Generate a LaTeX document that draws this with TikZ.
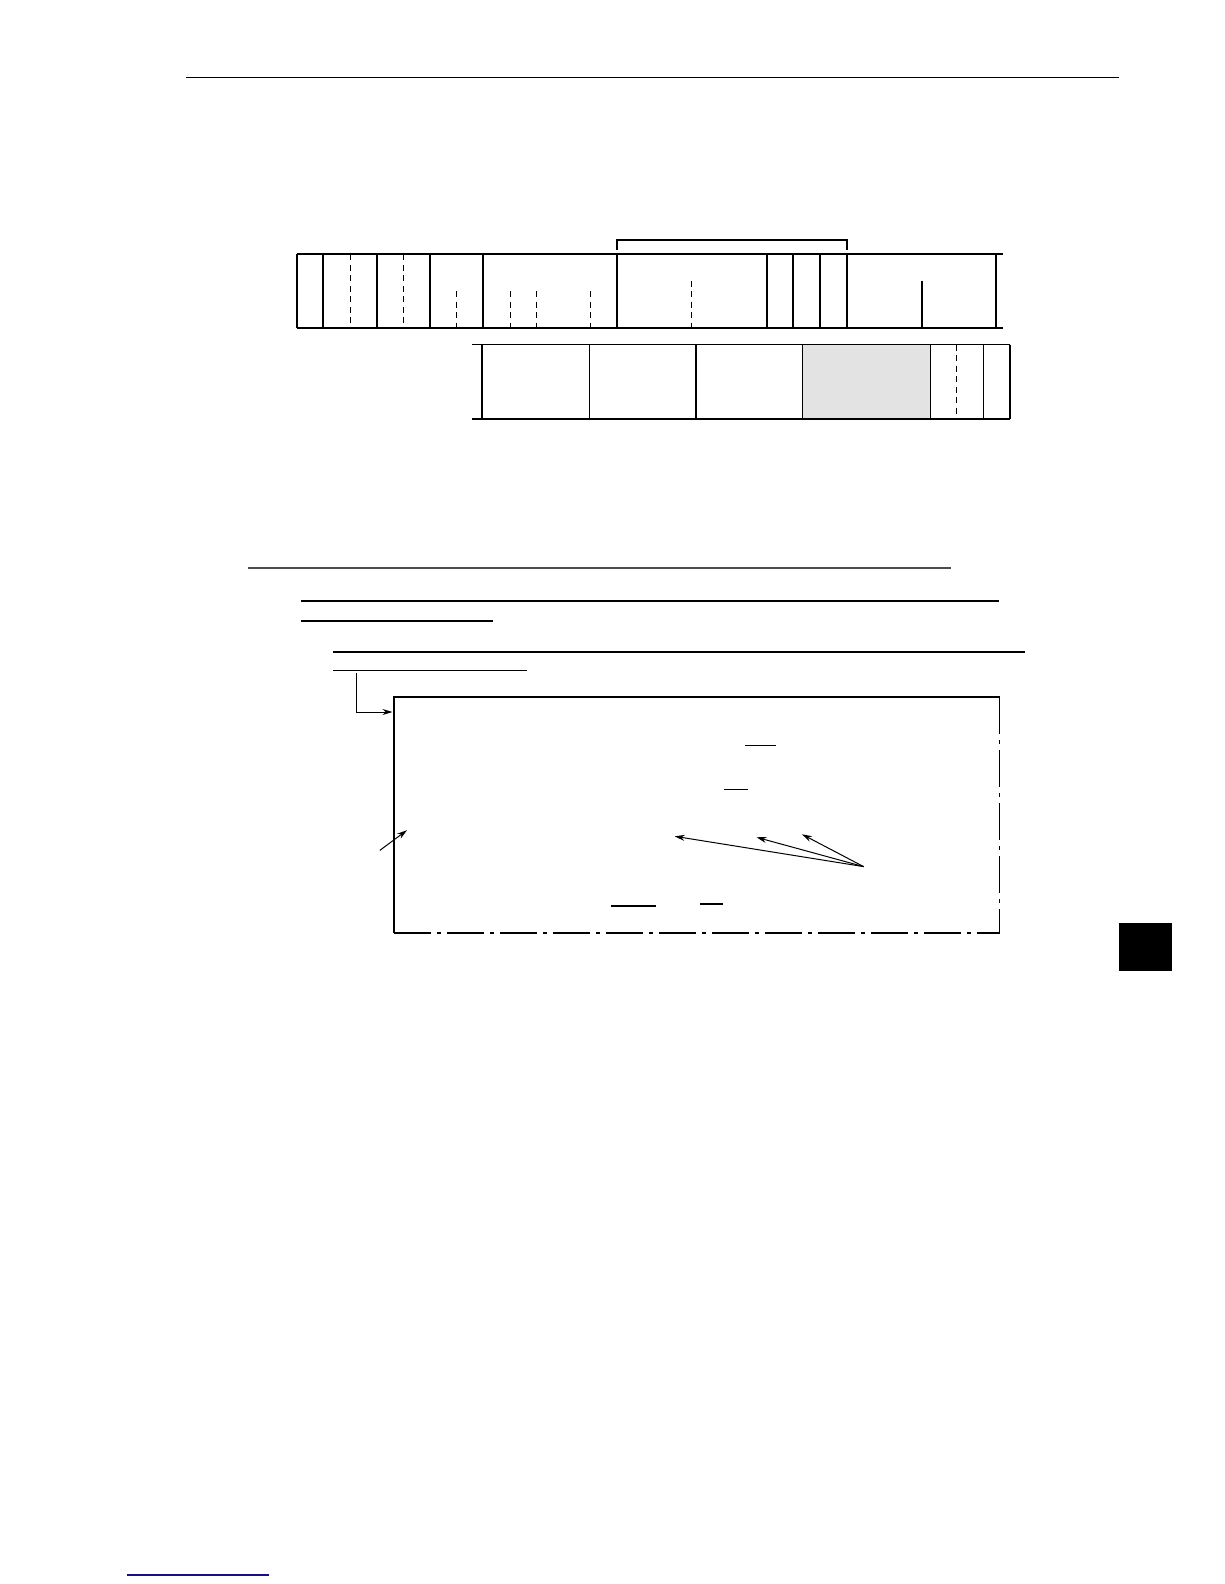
\documentclass[tikz,border=0pt]{standalone}
\usetikzlibrary{arrows.meta}
\definecolor{cellgray}{HTML}{E3E3E3}
\definecolor{linkblue}{HTML}{10108A}
\tikzset{
  rowline/.style={line width=1.8pt},
  dashv/.style={line width=1.6pt, dash pattern=on 6pt off 4.5pt},
  frameline/.style={line width=2.8pt},
  dashdotline/.style={line width=1.6pt, dash pattern=on 37pt off 6pt on 4pt off 6pt},
  ruleline/.style={line width=1.8pt},
  pointer/.style={line width=1pt, -{Stealth[length=10pt,width=6pt]}},
}
\begin{document}
\begin{tikzpicture}[x=1pt,y=-1pt]
\useasboundingbox (0,0) rectangle (1224,1584);
% header rule
\draw[line width=1.6pt] (186,77.5) -- (1119,77.5);
% ---------- row 1 ----------
\def\ta{254.3}\def\tb{328.3}
\draw[rowline] (296.7,\ta) -- (1002.7,\ta);
\draw[rowline] (296.7,\tb) -- (1002.7,\tb);
\foreach \x in {296.7,323.3,376.7,430.3,483.3,616.7,766.7,793.3,819.7,846.7,995.7}
  \draw[rowline] (\x,\ta) -- (\x,\tb);
\foreach \x in {350.3,403.3}
  \draw[dashv] (\x,\ta) -- (\x,\tb);
\foreach \x in {456.3,510.3,536.3,590.3}
  \draw[dashv] (\x,291) -- (\x,\tb);
\draw[dashv] (691.3,280.7) -- (691.3,\tb);
\draw[rowline] (921.7,280.7) -- (921.7,\tb);
% bracket
\draw[rowline] (616.7,250) -- (616.7,240.3) -- (846.7,240.3) -- (846.7,250);
% ---------- row 2 ----------
\def\ua{344.5}\def\ub{419}
\fill[cellgray] (802.5,\ua) rectangle (930.5,\ub);
\draw[rowline] (472.3,\ua) -- (1010,\ua);
\draw[rowline] (472.3,\ub) -- (1010,\ub);
\foreach \x in {482,589.5,695.8,802.5,930.5,983.5,1010}
  \draw[rowline] (\x,\ua) -- (\x,\ub);
\draw[dashv] (956.5,\ua) -- (956.5,\ub);
% ---------- rules ----------
\draw[ruleline, black!70] (247.5,567.8) -- (951,567.8);
\draw[ruleline] (301,601.3) -- (999,601.3);
\draw[ruleline] (301,621) -- (493,621);
\draw[ruleline] (333.3,652) -- (1025,652);
\draw[ruleline] (333.3,670.5) -- (527.2,670.5);
% ---------- frame ----------
\coordinate (tl) at (394,697);
\coordinate (tr) at (999.5,697);
\coordinate (bl) at (394,933);
\coordinate (br) at (999.5,933);
\draw[frameline] (tr) -- (tl) -- (bl);
\draw[dashdotline] (bl) -- (br);
\draw[dashdotline] (tr) -- (br);
% elbow arrow
\coordinate (e0) at (356.5,673);
\coordinate (e1) at (356.5,712);
\coordinate (e2) at (392.5,712);
\draw[pointer] (e0) -- (e1) -- (e2);
% short lines inside frame
\draw[line width=1.2pt] (745.4,745.5) -- (775.7,745.5);
\draw[line width=1.2pt] (724,789.8) -- (748.4,789.8);
\draw[line width=1.2pt] (611,906) -- (655.5,906);
\draw[line width=1.2pt] (700,904) -- (723,904);
% pointers
\coordinate (p0) at (379.8,850.4);
\coordinate (p1) at (407,830.2);
\draw[pointer] (p0) -- (p1);
\coordinate (q0) at (863.6,866.6);
\coordinate (q1) at (674.7,836.3);
\coordinate (q2) at (756.5,837.3);
\coordinate (q3) at (802,834.3);
\draw[pointer] (q0) -- (q1);
\draw[pointer] (q0) -- (q2);
\draw[pointer] (q0) -- (q3);
% black tab
\fill[black] (1119,922.5) rectangle (1171.7,971);
% bottom link rule
\draw[linkblue, line width=1.2pt] (127,1575) -- (269,1575);
\end{tikzpicture}
\end{document}
